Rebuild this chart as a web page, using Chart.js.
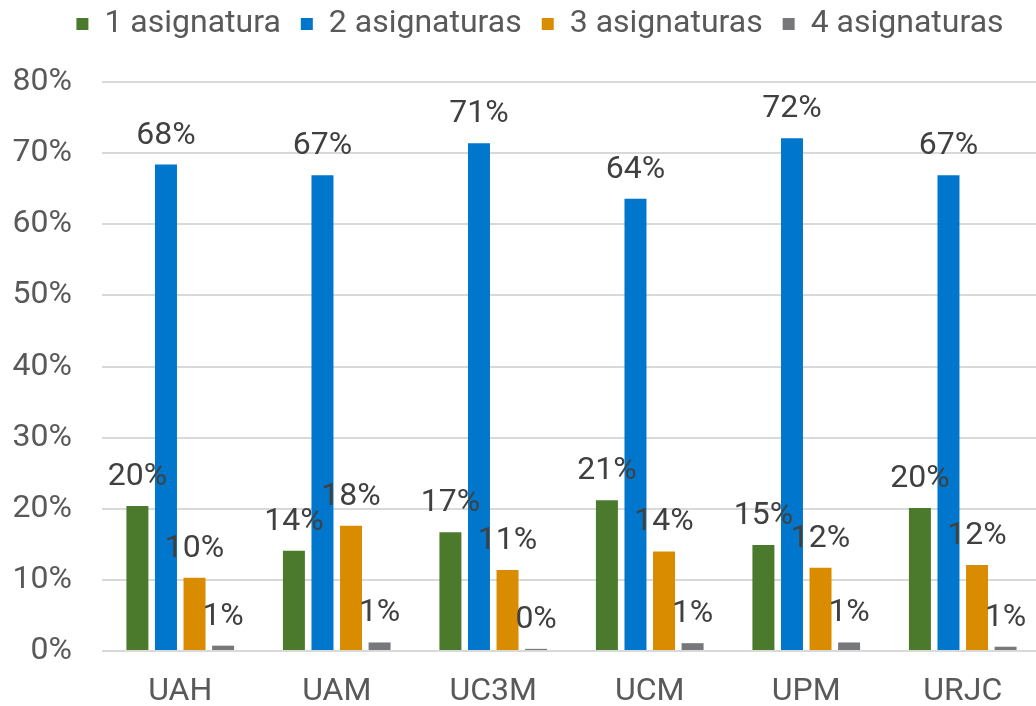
<!DOCTYPE html>
<html lang="es">
<head>
    <meta charset="UTF-8">
    <title>Asignaturas por universidad</title>
    <script src="https://cdn.jsdelivr.net/npm/chart.js"></script>
    <style>
        html, body {
            margin: 0;
            padding: 0;
            overflow: hidden;
            background: #ffffff;
        }
        #wrap {
            position: relative;
            width: 1042px;
            height: 706px;
        }
    </style>
</head>
<body>
<div id="wrap"><canvas id="grafico"></canvas></div>

<script>
    // Datos (porcentajes)
    const universidades = ['UAH', 'UAM', 'UC3M', 'UCM', 'UPM', 'URJC'];
    const series = ['1 asignatura', '2 asignaturas', '3 asignaturas', '4 asignaturas'];
    const unaAsig = [20.4, 14.1, 16.7, 21.2, 14.9, 20.1];
    const dosAsig = [68.4, 66.9, 71.4, 63.6, 72.1, 66.9];
    const tresAsig = [10.3, 17.6, 11.4, 14.0, 11.7, 12.1];
    const cuatroAsig = [0.75, 1.2, 0.3, 1.1, 1.2, 0.6];
    const colores = ['#4b7a2c', '#0076cc', '#d98c00', '#76787b'];
    const ticksY = [0, 10, 20, 30, 40, 50, 60, 70, 80];

    Chart.defaults.font.family = 'Roboto';
    Chart.defaults.font.size = 32;
    Chart.defaults.color = '#595959';

    // etiquetas encima de cada barra
    const etiquetas = {
        id: 'etiquetas',
        afterDatasetsDraw(chart) {
            const ctx = chart.ctx;
            ctx.save();
            ctx.font = '32px Roboto';
            ctx.fillStyle = '#404040';
            ctx.textAlign = 'center';
            ctx.textBaseline = 'alphabetic';
            chart.data.datasets.forEach((ds, i) => {
                chart.getDatasetMeta(i).data.forEach((bar, j) => {
                    ctx.fillText(Math.round(ds.data[j]) + '%', bar.x, bar.y - 21);
                });
            });
            ctx.restore();
        }
    };

    // mas espacio entre la leyenda y el grafico, y leyenda algo desplazada
    const espacioLeyenda = {
        id: 'espacioLeyenda',
        beforeInit(chart) {
            if (!chart.legend) return;
            const fit = chart.legend.fit;
            chart.legend.fit = function () {
                fit.call(this);
                this.height += 32;
            };
        },
        afterUpdate(chart) {
            if (chart.legend) chart.legend.left = 39;
        }
    };

    const datos = [unaAsig, dosAsig, tresAsig, cuatroAsig];

    new Chart(document.getElementById('grafico'), {
        type: 'bar',
        data: {
            labels: universidades,
            datasets: series.map((nombre, i) => ({
                label: nombre,
                data: datos[i],
                backgroundColor: colores[i],
                borderWidth: 0,
                categoryPercentage: 0.73,
                barPercentage: 0.77
            }))
        },
        options: {
            responsive: true,
            maintainAspectRatio: false,
            animation: false,
            layout: {
                padding: { top: -12, left: 0, right: 1, bottom: 0 }
            },
            scales: {
                x: {
                    afterFit(scale) { scale.height = 55; },
                    grid: { display: false, drawTicks: false },
                    border: { display: false },
                    ticks: {
                        padding: 25,
                        color: '#595959',
                        font: { size: 32, lineHeight: 1 }
                    }
                },
                y: {
                    min: 0,
                    max: 80,
                    afterFit(scale) { scale.width = 102; },
                    afterBuildTicks(scale) { scale.ticks = ticksY.map(v => ({ value: v })); },
                    grid: { color: '#d9d9d9', lineWidth: 2, drawTicks: false },
                    border: { display: false },
                    ticks: {
                        padding: 30,
                        color: '#595959',
                        font: { size: 32 },
                        callback: v => v + '%'
                    }
                }
            },
            plugins: {
                legend: {
                    position: 'top',
                    labels: {
                        boxWidth: 12,
                        boxHeight: 12,
                        padding: 20,
                        color: '#595959',
                        font: { size: 32 }
                    }
                },
                tooltip: { enabled: false }
            }
        },
        plugins: [etiquetas, espacioLeyenda]
    });
</script>
</body>
</html>
